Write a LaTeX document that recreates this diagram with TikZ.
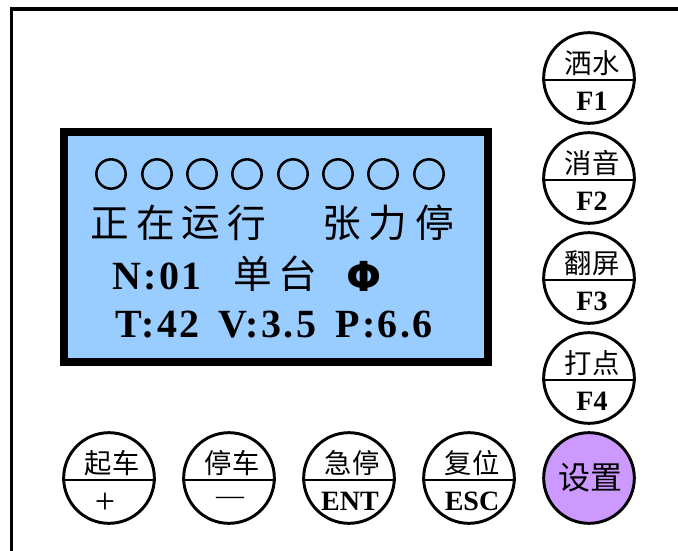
\documentclass[tikz,border=0pt]{standalone}
\usepackage{fontspec}
\setmainfont{Liberation Serif}
\newfontfamily\cjk{Noto Sans CJK SC}
\newfontfamily\djv{DejaVu Sans}
\tikzset{
  frameline/.style={draw=black,line width=2.6pt},
  lcd/.style={draw=black,fill=lcdblue,line width=6pt,minimum width=318pt,minimum height=172.5pt,inner sep=0pt,rectangle},
  lamp/.style={circle,draw=black,line width=1.9pt,minimum size=22pt,inner sep=0pt},
  keyc/.style={circle,draw=black,line width=2.2pt,minimum size=68pt,inner sep=0pt},
  divider/.style={draw=black,line width=1.9pt},
  cjktop/.style={inner sep=0pt,font=\cjk\fontsize{20.5}{21}\selectfont},
  engbot/.style={inner sep=0pt,font=\bfseries\fontsize{21}{21}\selectfont},
  lcdcjk/.style={inner sep=0pt,font=\cjk\fontsize{29}{29}\selectfont},
  lcdeng/.style={inner sep=0pt,anchor=west,font=\bfseries\addfontfeature{LetterSpace=6}\fontsize{30}{30}\selectfont},
}
\definecolor{lcdblue}{HTML}{99CCFF}
\definecolor{keypurple}{HTML}{CC99FF}
\newcommand{\keybtn}[6]{%
  \node[keyc] (#1) at (#2,#3) {};
  \draw[divider] ([yshift=-1.5pt]#1.west) -- ([yshift=-1.5pt]#1.east);
  \node[cjktop] (#1t) at (#2+3,#3-15) {#4};
  \node[#6] (#1b) at (#2+3,#3+23) {#5};
}
\begin{document}
\begin{tikzpicture}[x=0.75pt,y=-0.75pt]
\useasboundingbox (0,0) rectangle (678,550);
\draw[frameline] (11.5,560) -- (11.5,9) -- (690,9);
\node[lcd] (screen) at (276,247) {};
\foreach \i/\x in {1/111,2/157,3/202,4/247,5/293,6/338,7/383,8/429}
  \node[lamp] (lamp\i) at (\x,174) {};
\foreach \i/\c/\x in {1/正/110,2/在/156,3/运/201,4/行/247,5/张/342,6/力/388,7/停/435}
  \node[lcdcjk] (s\i) at (\x,223) {\c};
\node[lcdeng] (nlabel) at (112,276) {N:01};
\node[lcdcjk] (dan) at (253,274) {单};
\node[lcdcjk] (tai) at (298,274) {台};
\node[inner sep=0pt,font=\djv\bfseries\fontsize{31}{31}\selectfont] (phi) at (364,276) {Φ};
\node[lcdeng] (tlabel) at (115,325) {T:42};
\node[lcdeng] (vlabel) at (218,325) {V:3.5};
\node[lcdeng] (plabel) at (335,325) {P:6.6};
\keybtn{f1}{589}{78}{洒水}{F1}{engbot}
\keybtn{f2}{589}{178}{消音}{F2}{engbot}
\keybtn{f3}{589}{278}{翻屏}{F3}{engbot}
\keybtn{f4}{589}{378}{打点}{F4}{engbot}
\keybtn{qi}{109}{478}{起车}{+}{engbot,font=\fontsize{27}{27}\selectfont,xshift=-5.25pt,yshift=-2pt}
\keybtn{ting}{229}{478}{停车}{—}{engbot,font=\fontsize{21}{21}\selectfont,xshift=-1.5pt}
\keybtn{ji}{349}{478}{急停}{ENT}{engbot,xshift=-1.5pt}
\keybtn{fu}{469}{478}{复位}{ESC}{engbot}
\node[keyc,fill=keypurple,font=\cjk\fontsize{24}{24}\selectfont] (set) at (589,478) {\hspace{1.5pt}设置};
\end{tikzpicture}
\end{document}
